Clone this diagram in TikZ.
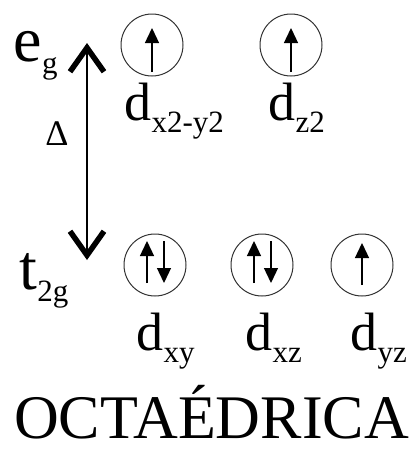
\documentclass[tikz,border=0pt]{standalone}
\usepackage{fontspec}
\setmainfont{Liberation Serif}
\usetikzlibrary{arrows.meta}
\tikzset{
  lbl/.style={anchor=base west, inner sep=0pt, font=\fontsize{54}{54}\selectfont},
  biglbl/.style={anchor=base west, inner sep=0pt, font=\fontsize{64}{64}\selectfont},
  sub/.style={anchor=base west, inner sep=0pt, font=\fontsize{31}{31}\selectfont},
  orb/.style={circle, draw=black!80, line width=1pt, minimum size=62pt, inner sep=0pt},
  spin/.style={line width=1.3pt, -{Triangle[length=15pt,width=14pt]}},
  bigarrow/.style={line width=2pt, {Straight Barb[length=24pt,width=34pt,line width=5.5pt]}-{Straight Barb[length=24pt,width=34pt,line width=5.5pt]}}
}
\begin{document}
\begin{tikzpicture}[x=1pt,y=-1pt]
\useasboundingbox (0,0) rectangle (410,450);
% labels
\node[biglbl] (e) at (13,61) {e};
\node[sub] (eg) at (e.base east) [yshift=-12pt] {g};
\node[anchor=base, inner sep=0pt, font=\fontsize{36}{36}\selectfont] (delta) at (57,145) {Δ};
\node[biglbl] (t) at (19,289) {t};
\node[sub] (tg) at (t.base east) [yshift=-12pt] {2g};
% big arrow
\coordinate (top) at (87,43);
\coordinate (bot) at (87,260);
\draw[bigarrow] (bot) -- (top);
% top orbitals
\node[orb] (o1) at (152,45) {};
\node[orb] (o2) at (291,45) {};
\node[lbl] (d1) at (124,120) {d};
\node[sub] (s1) at (d1.base east) [yshift=-12pt] {x2-y2};
\node[lbl] (d2) at (268,120) {d};
\node[sub] (s2) at (d2.base east) [yshift=-12pt] {z2};
% bottom orbitals
\node[orb] (o3) at (155,265) {};
\node[orb] (o4) at (262,265) {};
\node[orb] (o5) at (362,265) {};
\node[lbl] (d3) at (136,350) {d};
\node[sub] (s3) at (d3.base east) [yshift=-12pt] {xy};
\node[lbl] (d4) at (245,350) {d};
\node[sub] (s4) at (d4.base east) [yshift=-12pt] {xz};
\node[lbl] (d5) at (350,350) {d};
\node[sub] (s5) at (d5.base east) [yshift=-12pt] {yz};
% spins
\coordinate (a1b) at ([yshift=-27pt]o1.center);
\coordinate (a1t) at ([yshift=17pt]o1.center);
\draw[spin] (a1b) -- (a1t);
\coordinate (a2b) at ([yshift=-27pt]o2.center);
\coordinate (a2t) at ([yshift=17pt]o2.center);
\draw[spin] (a2b) -- (a2t);
\coordinate (a3b) at ([xshift=-8pt,yshift=-18pt]o3.center);
\coordinate (a3t) at ([xshift=-8pt,yshift=24pt]o3.center);
\draw[spin] (a3b) -- (a3t);
\coordinate (a3u) at ([xshift=9pt,yshift=24pt]o3.center);
\coordinate (a3d) at ([xshift=9pt,yshift=-18pt]o3.center);
\draw[spin] (a3u) -- (a3d);
\coordinate (a4b) at ([xshift=-8pt,yshift=-18pt]o4.center);
\coordinate (a4t) at ([xshift=-8pt,yshift=24pt]o4.center);
\draw[spin] (a4b) -- (a4t);
\coordinate (a4u) at ([xshift=9pt,yshift=24pt]o4.center);
\coordinate (a4d) at ([xshift=9pt,yshift=-18pt]o4.center);
\draw[spin] (a4u) -- (a4d);
\coordinate (a5b) at ([yshift=-20pt]o5.center);
\coordinate (a5t) at ([yshift=22pt]o5.center);
\draw[spin] (a5b) -- (a5t);
% title
\node[anchor=base west, inner sep=0pt, font=\fontsize{62}{62}\selectfont] (title) at (14,438) {OCTAÉDRICA};
\end{tikzpicture}
\end{document}
